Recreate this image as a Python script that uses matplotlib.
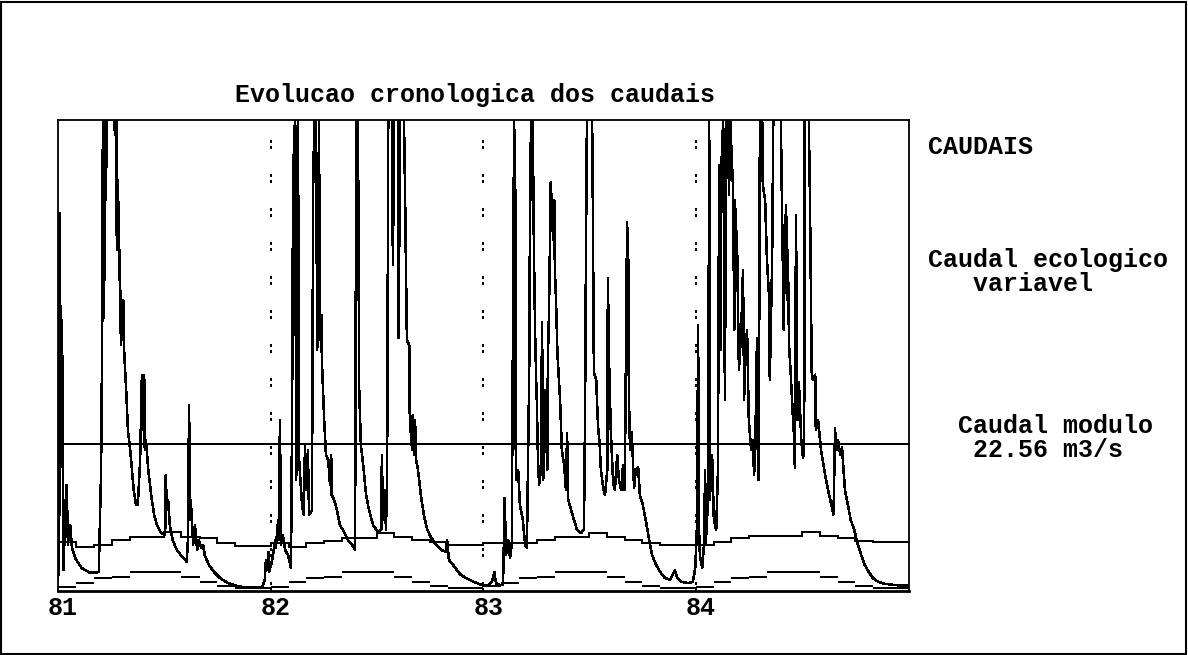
import numpy as numpy
import matplotlib
matplotlib.use("Agg")
import matplotlib.pyplot as pyplot
from matplotlib.patches import Rectangle

# anos hidrologicos (Out-Set), 81/82 .. 84/85
anos = ["81", "82", "83", "84"]
dias_mes_normal = [31, 30, 31, 31, 28, 31, 30, 31, 30, 31, 31, 30]
dias_mes_bissexto = [31, 30, 31, 31, 29, 31, 30, 31, 30, 31, 31, 30]

caudal_modulo = 22.56
caudal_max_grafico = 72.3

# caudais diarios (m3/s), lidos por pontos: dia desde o inicio da serie
dias_81 = [0, 2, 3, 5, 7, 9, 10, 12, 15, 17, 21, 24, 31, 41, 55, 70, 74, 76, 77,
           79, 81, 82, 84, 96, 98, 100, 101, 103, 105, 106, 108, 112, 113, 117,
           120, 124, 127, 130, 134, 136, 137, 141, 142, 144, 146, 148, 149, 151,
           155, 160, 165, 170, 177, 184, 185, 187, 189, 192, 197, 204, 211, 218,
           221, 223, 225, 227, 228, 232, 235, 239, 242, 246, 249, 252, 259, 268,
           278, 292, 306, 323, 350, 355, 357, 359, 361, 362, 366]
caudal_81 = [1.7, 4.8, 58.0, 24.7, 41.6, 3.2, 14.0, 7.1, 16.3, 7.1, 10.1, 6.6,
             4.8, 3.5, 2.8, 2.9, 18.6, 41.9, 80, 41.9, 80, 60.0, 80, 80, 70.0,
             80, 52.3, 63.1, 47.7, 52.3, 37.8, 44.7, 37.8, 30.9, 24.7, 21.6,
             18.6, 15.5, 13.2, 14.0, 13.2, 20.1, 24.7, 33.2, 24.7, 33.2, 21.6,
             23.2, 18.6, 14.7, 11.7, 10.1, 8.9, 8.6, 17.8, 12.4, 14.0, 10.1,
             7.8, 6.3, 5.5, 4.8, 4.5, 7.8, 28.6, 10.9, 14.0, 7.1, 10.1, 6.3,
             7.8, 6.6, 7.1, 5.5, 4.0, 2.9, 2.0, 1.2, 0.8, 0.5, 0.5, 1.7, 4.8,
             3.2, 6.0, 2.9, 4.0]

dias_82 = [369, 373, 374, 378, 379, 381, 383, 386, 390, 395, 400, 402, 403, 405,
           407, 409, 410, 412, 414, 415, 419, 422, 424, 426, 429, 431, 436, 438,
           440, 443, 445, 446, 448, 450, 452, 453, 457, 460, 464, 467, 469, 470,
           474, 479, 484, 489, 498, 505, 510, 512, 515, 517, 520, 524, 529, 534,
           541, 549, 555, 556, 558, 561, 563, 565, 567, 573, 575, 577, 584, 585,
           587, 594, 596, 597, 599, 603, 604, 608, 609, 611, 613, 615, 618, 623,
           628, 634, 640, 649, 658, 666, 668, 671, 680, 690, 700, 714, 731]
caudal_82 = [5.5, 7.8, 6.6, 10.9, 7.8, 26.2, 7.1, 8.6, 6.3, 5.5, 3.5, 29.3,
             52.3, 69.0, 80, 17.0, 67.7, 80, 20.1, 18.6, 13.2, 11.7, 22.4, 15.5,
             21.6, 11.7, 12.4, 61.6, 80, 80, 37.0, 41.6, 80, 38.5, 42.4, 35.5,
             26.2, 20.9, 20.1, 16.3, 20.9, 14.7, 14.0, 12.4, 10.1, 9.4, 7.8, 7.1,
             6.3, 80, 80, 31.2, 22.4, 19.3, 14.7, 12.4, 10.1, 9.1, 9.4, 20.9,
             10.9, 15.5, 9.4, 17.0, 80, 80, 50.0, 80, 80, 38.8, 80, 80, 60.0,
             52.3, 38.5, 37.8, 26.2, 21.6, 27.0, 20.9, 26.2, 20.1, 18.6, 14.7,
             11.7, 9.4, 8.3, 7.1, 6.3, 6.0, 7.8, 4.8, 3.8, 2.6, 2.0, 1.4, 0.8]

dias_83 = [738, 745, 749, 752, 759, 764, 767, 769, 773, 776, 779, 783, 785, 786,
           790, 793, 798, 802, 805, 809, 810, 812, 815, 817, 819, 821, 822, 824,
           826, 829, 831, 833, 836, 840, 841, 843, 846, 850, 852, 853, 855, 857,
           858, 862, 865, 869, 872, 874, 876, 881, 886, 891, 898, 903, 905, 906,
           908, 917, 918, 920, 924, 927, 930, 932, 936, 939, 943, 944, 946, 949,
           953, 956, 960, 963, 967, 970, 973, 977, 979, 980, 982, 985, 989, 992,
           996, 999, 1004, 1009, 1015, 1020, 1027, 1034, 1042, 1051, 1059, 1063,
           1071, 1082, 1090, 1094, 1097, 1099, 1100]
caudal_83 = [0.9, 1.4, 2.9, 1.2, 0.9, 0.9, 14.3, 5.5, 7.8, 5.1, 7.1, 80, 61.6,
             17.0, 18.6, 13.2, 10.9, 7.1, 6.6, 33.9, 52.7, 80, 80, 52.7, 40.1,
             32.1, 29.3, 20.1, 16.3, 18.6, 41.3, 17.0, 30.9, 18.6, 35.5, 43.1,
             62.8, 53.9, 60.0, 49.3, 44.7, 37.8, 35.5, 29.3, 21.6, 19.3, 15.5,
             24.3, 14.0, 12.4, 10.9, 9.4, 8.9, 9.4, 29.3, 46.2, 80, 80, 61.6,
             33.6, 32.4, 25.5, 22.4, 18.6, 15.8, 14.7, 18.6, 48.0, 35.5, 24.7,
             16.7, 15.5, 20.9, 17.0, 15.5, 19.3, 15.5, 56.6, 50.8, 30.9, 21.6,
             24.4, 15.8, 18.6, 19.0, 14.7, 13.2, 10.9, 7.8, 5.5, 4.0, 2.9, 2.0,
             1.7, 3.2, 2.0, 1.4, 1.2, 1.4, 3.5, 10.1, 40.8, 10.9]

dias_84 = [1102, 1106, 1109, 1111, 1112, 1116, 1118, 1119, 1123, 1126, 1130,
           1133, 1135, 1137, 1138, 1142, 1145, 1147, 1150, 1152, 1154, 1159,
           1161, 1162, 1166, 1169, 1173, 1176, 1178, 1179, 1183, 1186, 1190,
           1193, 1195, 1197, 1200, 1202, 1203, 1205, 1209, 1210, 1214, 1217,
           1221, 1222, 1226, 1228, 1241, 1243, 1246, 1248, 1250, 1252, 1253,
           1255, 1258, 1262, 1264, 1265, 1267, 1269, 1270, 1272, 1276, 1279,
           1281, 1282, 1289, 1291, 1294, 1296, 1300, 1301, 1305, 1310, 1317,
           1324, 1329, 1331, 1332, 1334, 1336, 1339, 1343, 1346, 1351, 1356,
           1361, 1367, 1372, 1379, 1385, 1392, 1399, 1408, 1420, 1437, 1459]
caudal_84 = [5.5, 3.5, 7.1, 18.6, 7.1, 14.0, 80, 14.0, 20.9, 10.9, 9.4, 18.6,
             65.4, 37.0, 63.1, 80, 29.3, 80, 80, 60.8, 80, 61.6, 40.1, 60.0,
             52.3, 33.9, 40.1, 49.3, 29.3, 35.5, 40.1, 26.2, 21.6, 23.2, 17.8,
             21.6, 38.8, 26.2, 17.0, 80, 80, 62.3, 60.0, 51.1, 44.7, 32.4, 50.5,
             80, 80, 58.5, 40.1, 53.9, 59.3, 44.7, 52.3, 37.8, 33.2, 26.2, 23.2,
             18.9, 57.7, 30.9, 26.2, 32.1, 23.2, 20.4, 21.6, 80, 80, 59.7, 33.6,
             32.4, 33.2, 24.7, 26.2, 21.6, 17.8, 14.7, 12.7, 11.7, 14.3, 25.0,
             21.6, 23.2, 20.9, 22.0, 15.5, 13.2, 10.9, 9.4, 7.5, 5.5, 4.0, 2.9,
             2.0, 1.4, 1.1, 0.9, 0.8]

# caudal ecologico variavel, valores mensais (Out..Set) de cada ano
eco_superior = [7.5, 6.75, 7.06, 7.83, 8.29, 8.29, 9.06, 8.29, 8.14, 7.37, 6.9, 6.9,
                7.37, 6.75, 7.37, 7.68, 8.14, 8.14, 8.9, 8.29, 7.83, 7.5, 7.06, 7.06,
                7.37, 7.37, 7.37, 7.83, 8.29, 8.29, 8.9, 8.29, 7.83, 7.37, 7.06, 7.06,
                7.06, 7.5, 8.14, 8.44, 8.44, 8.44, 9.06, 8.44, 8.14, 7.68, 7.5, 7.5]
eco_inferior = [0.61, 1.23, 2.0, 2.15, 2.92, 2.92, 2.92, 2.15, 1.38, 0.77, 0.46, 0.46,
                0.61, 1.38, 2.0, 2.15, 2.92, 2.92, 2.92, 2.15, 1.38, 0.77, 0.46, 0.46,
                0.77, 1.23, 2.0, 2.15, 2.92, 2.92, 2.92, 2.15, 1.38, 0.77, 0.46, 0.46,
                0.61, 1.38, 2.0, 2.15, 2.92, 2.92, 2.92, 2.15, 1.38, 0.77, 0.46, 0.46]

FONTE = "Liberation Mono"

# linhas com aspecto de ecra antigo: sem anti-aliasing
pyplot.rcParams["lines.antialiased"] = False


def limites_meses():
    meses = dias_mes_normal * 3 + dias_mes_bissexto
    return numpy.concatenate([[0], numpy.cumsum(meses)])


def plot_caudais():
    dias = numpy.array(dias_81 + dias_82 + dias_83 + dias_84)
    caudal = numpy.array(caudal_81 + caudal_82 + caudal_83 + caudal_84)
    # o grafico original corta os picos no topo
    caudal = numpy.minimum(caudal, caudal_max_grafico)

    limites = limites_meses()
    inicio_anos = limites[::12][:4]

    fig = pyplot.figure(figsize=(11.88, 6.55), dpi=100)
    ax = fig.add_axes([58 / 1188, 1 - 591 / 655, 851 / 1188, 471 / 655])

    ax.plot(dias, caudal, color="black", lw=1.1)
    ax.axhline(caudal_modulo, color="black", lw=1.2)

    ax.step(limites, eco_superior + [eco_superior[-1]], where="post",
            color="black", lw=1.3)
    ax.hlines(eco_inferior, limites[:-1], limites[1:], color="black", lw=1.3,
              antialiased=False)

    for d in inicio_anos[1:]:
        ax.axvline(d, color="black", lw=1.5, dashes=(1, 1.5, 1, 12))

    ax.set_xlim(0, limites[-1])
    ax.set_ylim(0, caudal_max_grafico)
    ax.set_xticks([])
    ax.set_yticks([])
    for s in ax.spines.values():
        s.set_linewidth(1.3)
    ax.spines["bottom"].set_linewidth(2.0)

    for d, ano in zip(inicio_anos, anos):
        ax.annotate(ano, xy=(d, 0), xycoords=("data", "axes fraction"),
                    xytext=(5, -17), textcoords="offset pixels",
                    ha="center", va="center", fontsize=18,
                    fontfamily=FONTE, fontweight="bold")

    fig.text(475 / 1188, 1 - 95 / 655, "Evolucao cronologica dos caudais",
             ha="center", va="center", fontsize=18, fontfamily=FONTE,
             fontweight="bold")
    fig.text(928 / 1188, 1 - 147 / 655, "CAUDAIS", ha="left", va="center",
             fontsize=18, fontfamily=FONTE, fontweight="bold")
    fig.text(928 / 1188, 1 - 272 / 655, "Caudal ecologico\n   variavel",
             ha="left", va="center", fontsize=18, fontfamily=FONTE,
             fontweight="bold", linespacing=1.05)
    fig.text(928 / 1188, 1 - 438 / 655, "  Caudal modulo\n   %.2f m3/s" % caudal_modulo,
             ha="left", va="center", fontsize=18, fontfamily=FONTE,
             fontweight="bold", linespacing=1.05)

    fig.add_artist(Rectangle((1 / 1188, 1 / 655), 1185 / 1188, 652 / 655,
                             transform=fig.transFigure, fill=False,
                             ec="black", lw=1.5))

    fig.savefig("out.png", dpi=100)


plot_caudais()
